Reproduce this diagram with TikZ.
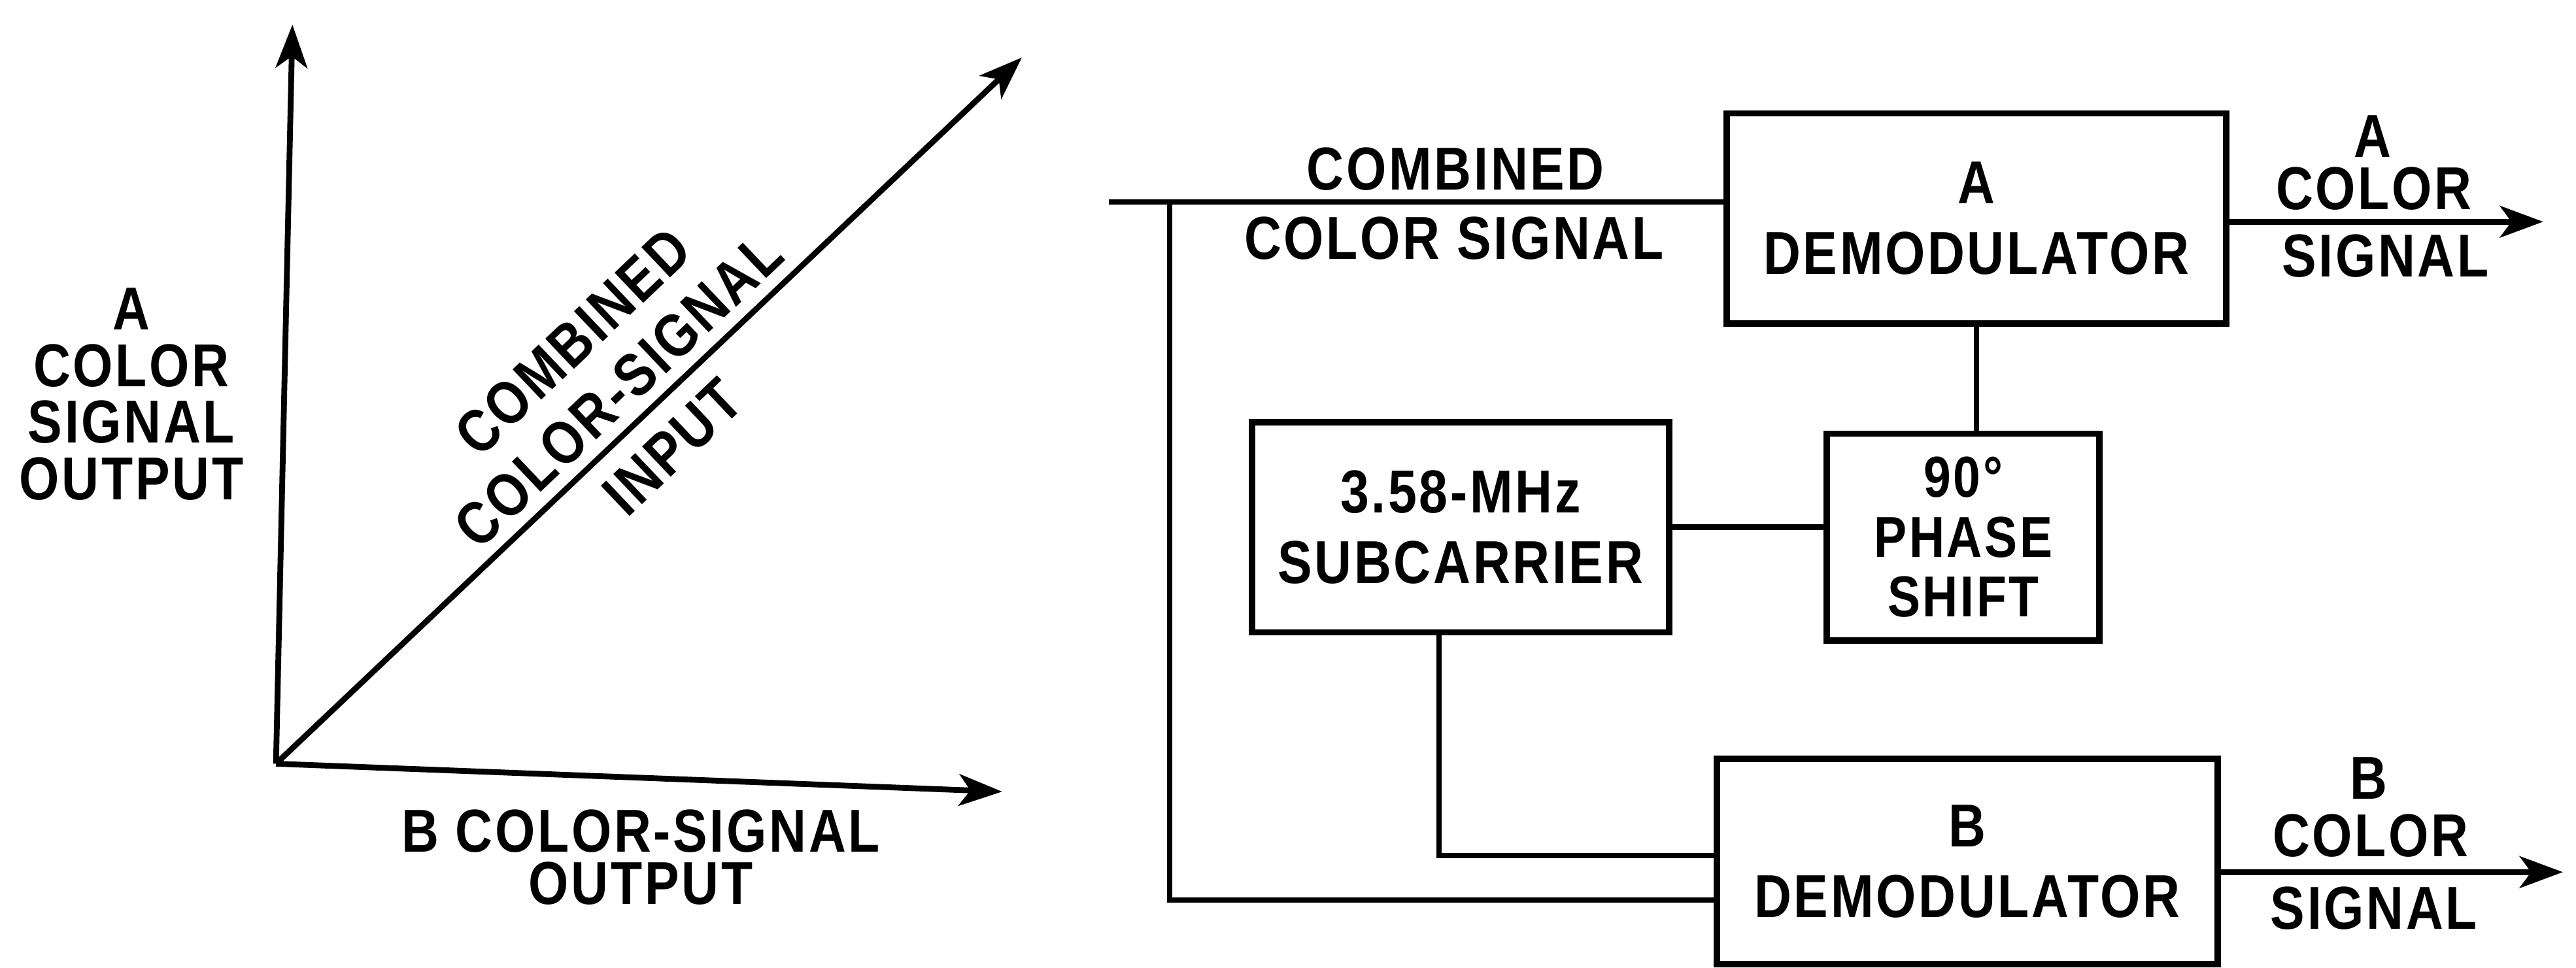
\documentclass[tikz,border=0pt]{standalone}
\usepackage{fontspec}
\setmainfont{Liberation Sans}[FakeStretch=0.85, LetterSpace=4.0]
\usetikzlibrary{arrows.meta}
\begin{document}
\begin{tikzpicture}[x=0.02cm,y=-0.02cm,
  lbl/.style={font=\fontsize{21}{24.5}\selectfont\bfseries, inner sep=0pt, align=center},
  blk/.style={draw, line width=2.2pt, inner sep=0pt, align=center, font=\fontsize{21}{24.5}\selectfont\bfseries},
  wire/.style={line width=1.9pt},
  arr/.style={line width=2pt, -{Stealth[length=15pt,width=11pt,inset=4pt]}}
]
\useasboundingbox (0,0) rectangle (1568,589);

% ---------- left: vector diagram ----------
\coordinate (o) at (168,465);
\coordinate (ya) at (178,15);
\coordinate (xa) at (610,482);
\coordinate (da) at (622,35);
\draw[arr] (o) -- (ya);
\draw[arr] (o) -- (xa);
\draw[arr] (o) -- (da);

\node[lbl, font=\fontsize{21}{19.6}\selectfont\bfseries] (aout) at (80,240) {A\\COLOR\\SIGNAL\\OUTPUT};
\node[lbl, font=\fontsize{21}{18.2}\selectfont\bfseries] (bout) at (390,522) {B COLOR-SIGNAL\\OUTPUT};
\node[lbl, rotate=43.5, font=\fontsize{21}{23.1}\selectfont\bfseries] (cin) at (379,240) {COMBINED\\COLOR-SIGNAL\\[4pt]INPUT};

% ---------- right: block diagram ----------
\node[blk, minimum width=304*0.02cm, minimum height=128*0.02cm] (ad) at (1203,133) {A\\DEMODULATOR};
\node[blk, minimum width=305*0.02cm, minimum height=125*0.02cm] (bd) at (1197.5,524.5) {B\\DEMODULATOR};
\node[blk, minimum width=254*0.02cm, minimum height=128*0.02cm] (sub) at (889,321) {3.58-MHz\\SUBCARRIER};
\node[blk, minimum width=166*0.02cm, minimum height=126*0.02cm, font=\fontsize{20}{20.8}\selectfont\bfseries] (ph) at (1195,327) {90°\\PHASE\\SHIFT};

\coordinate (in) at (675,123);
\coordinate (j) at (712,123);
\coordinate (jb) at (712,548);
\coordinate (s1) at (876,385);
\coordinate (s2) at (876,521);
\coordinate (aend) at (1548,135);
\coordinate (bend) at (1560,531);

\draw[wire] (in) -- (in -| ad.west);
\draw[wire] (j) -- (jb) -- (jb -| bd.west);
\draw[wire] (s1) -- (s2) -- (s2 -| bd.west);
\draw[wire] (ad.south) -- (ad.south |- ph.north);
\draw[wire] (sub.east) -- (sub.east -| ph.west);
\draw[arr] (aend -| ad.east) -- (aend);
\draw[arr] (bend -| bd.east) -- (bend);

\node[lbl] (t1) at (886,103) {COMBINED};
\node[lbl] (t2) at (885,145) {COLOR SIGNAL};

\node[lbl] (oa1) at (1444,83) {A};
\node[lbl] (oa2) at (1445,115) {COLOR};
\node[lbl] (oa3) at (1452,156) {SIGNAL};
\node[lbl] (ob1) at (1442,474) {B};
\node[lbl] (ob2) at (1443,509) {COLOR};
\node[lbl] (ob3) at (1445,553) {SIGNAL};
\end{tikzpicture}
\end{document}
